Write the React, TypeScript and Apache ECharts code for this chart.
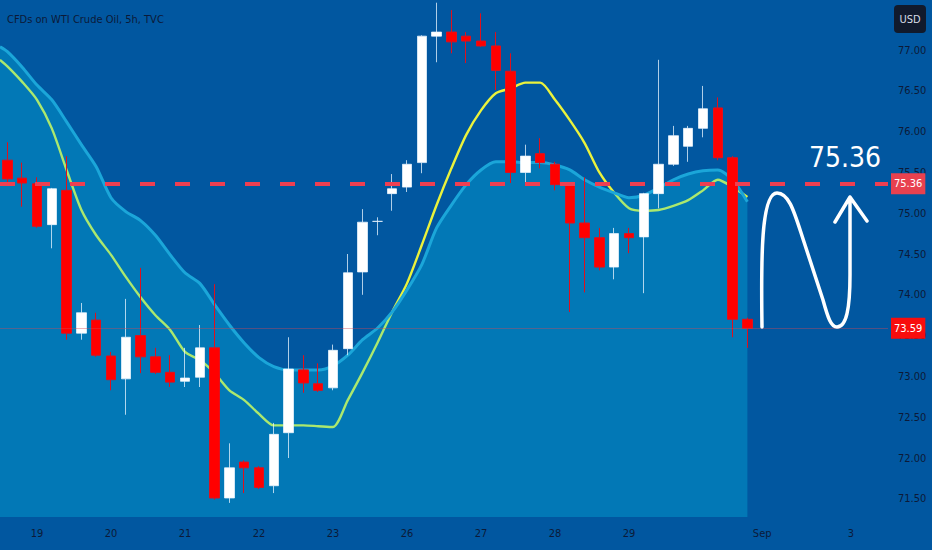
import React, { useEffect, useRef } from 'react';
import * as echarts from 'echarts';

const FONT = "'Liberation Sans Narrow', 'DejaVu Sans Condensed', 'Roboto', sans-serif";

const chartTitle = 'CFDs on WTI Crude Oil, 5h, TVC';
const currency = 'USD';
const slotCount = 60;
// [slot index, label]
const dayLabels: [number, string][] = [
  [2, '19'], [7, '20'], [12, '21'], [17, '22'], [22, '23'], [27, '26'],
  [32, '27'], [37, '28'], [42, '29'], [51, 'Sep'], [57, '3'],
];

// [open, close, low, high]
const candles: number[][] = [
  [75.65, 75.42, 75.35, 75.87],
  [75.43, 75.37, 75.08, 75.62],
  [75.36, 74.84, 74.82, 75.44],
  [74.86, 75.30, 74.57, 75.31],
  [75.28, 73.53, 73.45, 75.70],
  [73.53, 73.78, 73.45, 73.90],
  [73.69, 73.26, 73.24, 73.78],
  [73.25, 72.96, 72.83, 73.30],
  [72.97, 73.48, 72.53, 73.95],
  [73.50, 73.24, 73.04, 74.33],
  [73.24, 73.05, 73.03, 73.35],
  [73.05, 72.93, 72.87, 73.26],
  [72.94, 72.98, 72.87, 73.35],
  [72.99, 73.35, 72.87, 73.63],
  [73.35, 71.51, 71.49, 74.13],
  [71.51, 71.88, 71.45, 72.18],
  [71.95, 71.88, 71.57, 71.97],
  [71.88, 71.64, 71.62, 71.90],
  [71.66, 72.29, 71.57, 72.43],
  [72.31, 73.09, 72.00, 73.48],
  [73.08, 72.92, 72.80, 73.26],
  [72.91, 72.83, 72.81, 73.16],
  [72.86, 73.32, 72.83, 73.39],
  [73.34, 74.27, 73.26, 74.50],
  [74.28, 74.89, 74.00, 75.05],
  [74.90, 74.90, 74.73, 74.95],
  [75.24, 75.30, 75.03, 75.48],
  [75.32, 75.60, 75.26, 75.65],
  [75.62, 77.17, 75.49, 77.18],
  [77.17, 77.22, 76.85, 77.58],
  [77.22, 77.10, 76.96, 77.49],
  [77.17, 77.11, 76.84, 77.22],
  [77.11, 77.05, 77.04, 77.45],
  [77.05, 76.75, 76.51, 77.22],
  [76.74, 75.50, 75.37, 76.96],
  [75.50, 75.70, 75.38, 75.84],
  [75.73, 75.62, 75.55, 75.92],
  [75.60, 75.35, 75.28, 75.63],
  [75.36, 74.88, 73.79, 75.38],
  [74.88, 74.70, 74.03, 75.44],
  [74.70, 74.34, 74.30, 74.82],
  [74.34, 74.75, 74.19, 74.82],
  [74.75, 74.70, 74.51, 74.82],
  [74.71, 75.24, 74.02, 75.25],
  [75.24, 75.60, 75.06, 76.88],
  [75.60, 75.95, 75.58, 76.07],
  [75.82, 76.04, 75.63, 76.07],
  [76.04, 76.28, 75.93, 76.56],
  [76.29, 75.68, 75.65, 76.42],
  [75.68, 73.70, 73.48, 75.70],
  [73.70, 73.59, 73.35, 73.72],
];

// first value = left edge of the chart, then one value per candle
const maValues = [
  76.88, 76.80, 76.61, 76.39, 76.04, 75.53, 75.04, 74.73, 74.49, 74.22, 73.97,
  73.75, 73.57, 73.30, 73.20, 73.04, 72.83, 72.71, 72.54, 72.40, 72.40, 72.40,
  72.39, 72.38, 72.71, 73.05, 73.41, 73.79, 74.14, 74.61, 75.10, 75.55, 75.96,
  76.26, 76.47, 76.53, 76.60, 76.60, 76.39, 76.14, 75.86, 75.50, 75.25, 75.06,
  75.03, 75.04, 75.09, 75.16, 75.28, 75.41, 75.32, 75.20,
];
const bandValues = [
  77.04, 76.98, 76.79, 76.57, 76.39, 76.12, 75.84, 75.57, 75.19, 75.02, 74.91,
  74.73, 74.49, 74.27, 74.14, 73.88, 73.63, 73.41, 73.23, 73.12, 73.08, 73.08,
  73.08, 73.13, 73.26, 73.45, 73.59, 73.79, 74.06, 74.37, 74.82, 75.10, 75.35,
  75.53, 75.63, 75.63, 75.62, 75.62, 75.59, 75.53, 75.41, 75.32, 75.25, 75.19,
  75.22, 75.31, 75.41, 75.48, 75.52, 75.53, 75.41, 75.14,
];

const targetLevel = 75.36;
const lastClose = 73.59;
const yMin = 71.277;
const yMax = 77.613;
const topVisibleTick = 77.0;

const nArrowPath =
  'M762,327 C761,260 761,193 777,193 C790,193 795,215 805,245 L823,300 C828,318 831,327 837,327 C846,327 850,310 850,275 L850,197 M835,222 L850,197 L867,221';

export default function App() {
  const ref = useRef<HTMLDivElement>(null);

  useEffect(() => {
    const el = ref.current;
    if (!el) return;
    echarts.graphic.registerShape('nArrow', echarts.graphic.extendPath(nArrowPath, {}));
    const chart = echarts.init(el, null, { renderer: 'svg' });

    const categories = Array.from({ length: slotCount }, (_, i) => {
      const f = dayLabels.find((d) => d[0] === i);
      return f ? f[1] : '';
    });
    const toXY = (vals: number[]) => vals.map((v, k) => [k === 0 ? -0.5 : k - 1, v]);

    chart.setOption({
      animation: false,
      backgroundColor: '#0157A0',
      grid: { left: 0, top: 0, width: 888, height: 517, containLabel: false },
      xAxis: [
        {
          type: 'category',
          data: categories,
          boundaryGap: true,
          axisLine: { show: false },
          axisTick: { show: false },
          splitLine: { show: false },
          axisLabel: { interval: 0, color: '#0C1A38', fontSize: 11, fontFamily: FONT, margin: 11 },
        },
        { type: 'value', min: -0.5, max: slotCount - 0.5, show: false },
      ],
      yAxis: {
        type: 'value',
        position: 'right',
        min: yMin,
        max: yMax,
        splitNumber: 12,
        axisLine: { show: false },
        axisTick: { show: false },
        splitLine: { show: false },
        axisLabel: {
          color: '#0C1A38',
          fontSize: 11,
          fontFamily: FONT,
          margin: 10,
          showMinLabel: false,
          showMaxLabel: false,
          formatter: (v: number) => (v > topVisibleTick + 0.01 ? '' : v.toFixed(2)),
        },
      },
      series: [
        {
          type: 'line',
          name: 'MA',
          xAxisIndex: 1,
          data: toXY(maValues),
          z: 1,
          symbol: 'none',
          smooth: 0.25,
          lineStyle: { color: '#EAF23C', width: 2.4 },
          markLine: {
            symbol: 'none',
            silent: true,
            data: [{ yAxis: targetLevel }],
            lineStyle: { color: '#EE3F52', width: 4, type: [15, 20] },
            label: {
              show: true,
              position: 'end',
              distance: 3,
              formatter: targetLevel.toFixed(2),
              backgroundColor: '#E8414F',
              color: '#FFFFFF',
              padding: [5, 3, 5, 3],
              fontSize: 11,
              fontFamily: FONT,
            },
          },
        },
        {
          type: 'line',
          name: 'Band',
          xAxisIndex: 1,
          data: toXY(bandValues),
          z: 2,
          symbol: 'none',
          smooth: 0.25,
          lineStyle: { color: '#1BA6D9', width: 3 },
          areaStyle: { color: 'rgba(6,209,240,0.4)', origin: 'start' },
        },
        {
          type: 'candlestick',
          data: candles,
          z: 3,
          barWidth: 10,
          itemStyle: {
            color: '#FFFFFF',
            color0: '#FF0000',
            borderColor: 'rgba(235,245,255,0.75)',
            borderColor0: '#E0101C',
            borderWidth: 1,
          },
          markLine: {
            symbol: 'none',
            silent: true,
            data: [{ yAxis: lastClose }],
            lineStyle: { color: 'rgba(210,70,85,0.4)', width: 1, type: 'solid' },
            label: {
              show: true,
              position: 'end',
              distance: 3,
              formatter: lastClose.toFixed(2),
              backgroundColor: '#F80D0D',
              color: '#FFFFFF',
              padding: [5, 3, 5, 3],
              fontSize: 11,
              fontFamily: FONT,
            },
          },
        },
      ],
      graphic: [
        {
          type: 'text',
          z: 10,
          x: 7,
          y: 19,
          style: {
            text: chartTitle,
            fill: '#0C1A38',
            font: `11px ${FONT}`,
            verticalAlign: 'middle',
          },
        },
        {
          type: 'rect',
          z: 10,
          shape: { x: 894, y: 5, width: 32, height: 28, r: 4 },
          style: { fill: '#111A2C' },
        },
        {
          type: 'text',
          z: 11,
          x: 910,
          y: 19,
          style: {
            text: currency,
            fill: '#D8DCE6',
            font: `11px ${FONT}`,
            align: 'center',
            verticalAlign: 'middle',
          },
        },
        {
          type: 'text',
          z: 10,
          x: 845,
          y: 157,
          style: {
            text: targetLevel.toFixed(2),
            fill: '#FFFFFF',
            font: `28px ${FONT}`,
            align: 'center',
            verticalAlign: 'middle',
          },
        },
        {
          type: 'nArrow',
          z: 10,
          x: 0,
          y: 0,
          style: { stroke: '#FFFFFF', fill: 'none', lineWidth: 3.5, lineCap: 'round', lineJoin: 'round' },
        },
      ],
    });

    return () => chart.dispose();
  }, []);

  return <div ref={ref} style={{ position: 'fixed', left: 0, top: 0, width: 932, height: 550 }} />;
}
